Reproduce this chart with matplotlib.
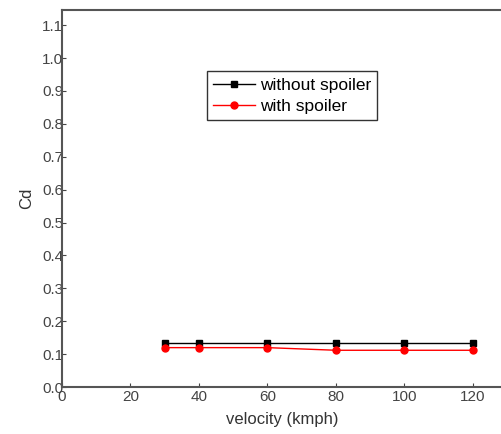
import matplotlib
matplotlib.use("Agg")
import matplotlib.pyplot as plt

plt.rcParams['font.family'] = ['Liberation Sans', 'DejaVu Sans']

velocity = [30, 40, 60, 80, 100, 120]
cd_without = [0.135, 0.135, 0.135, 0.135, 0.135, 0.135]
cd_with = [0.12, 0.12, 0.12, 0.112, 0.112, 0.112]
yticks = [0.0, 0.1, 0.2, 0.3, 0.4, 0.5, 0.6, 0.7, 0.8, 0.9, 1.0, 1.1]
xticks = [0, 20, 40, 60, 80, 100, 120]

fig = plt.figure(figsize=(5.02, 4.34), dpi=100)
ax = fig.add_axes([0.1235, 0.108, 0.8765, 0.869])

ax.plot(velocity, cd_without, color='black', marker='s', markersize=5,
        linewidth=1, label='without spoiler')
ax.plot(velocity, cd_with, color='red', marker='o', markersize=5,
        linewidth=1, label='with spoiler')

ax.set_xlim(0, 128.5)
ax.set_ylim(0, 1.146)
ax.set_xticks(xticks)
ax.set_yticks(yticks)
ax.set_yticklabels([f'{t:.1f}' for t in yticks])
ax.tick_params(direction='in', length=3, labelsize=11, colors='#444444')
ax.tick_params(axis='y', pad=-1)
ax.tick_params(axis='x', pad=2)
ax.spines['right'].set_visible(False)
for s in ['left', 'bottom', 'top']:
    ax.spines[s].set_color('#555555')
    ax.spines[s].set_linewidth(1.5)

ax.set_xlabel('velocity (kmph)', fontsize=12, color='#333333', labelpad=6)
ax.set_ylabel('Cd', fontsize=12, color='#333333', labelpad=6)

ax.legend(loc='upper left', bbox_to_anchor=(0.31, 0.86), fontsize=12.5,
          frameon=True, fancybox=False, edgecolor='black', handlelength=2.4,
          borderpad=0.35, labelspacing=0.35, handletextpad=0.3)

fig.savefig('out.png', dpi=100)
